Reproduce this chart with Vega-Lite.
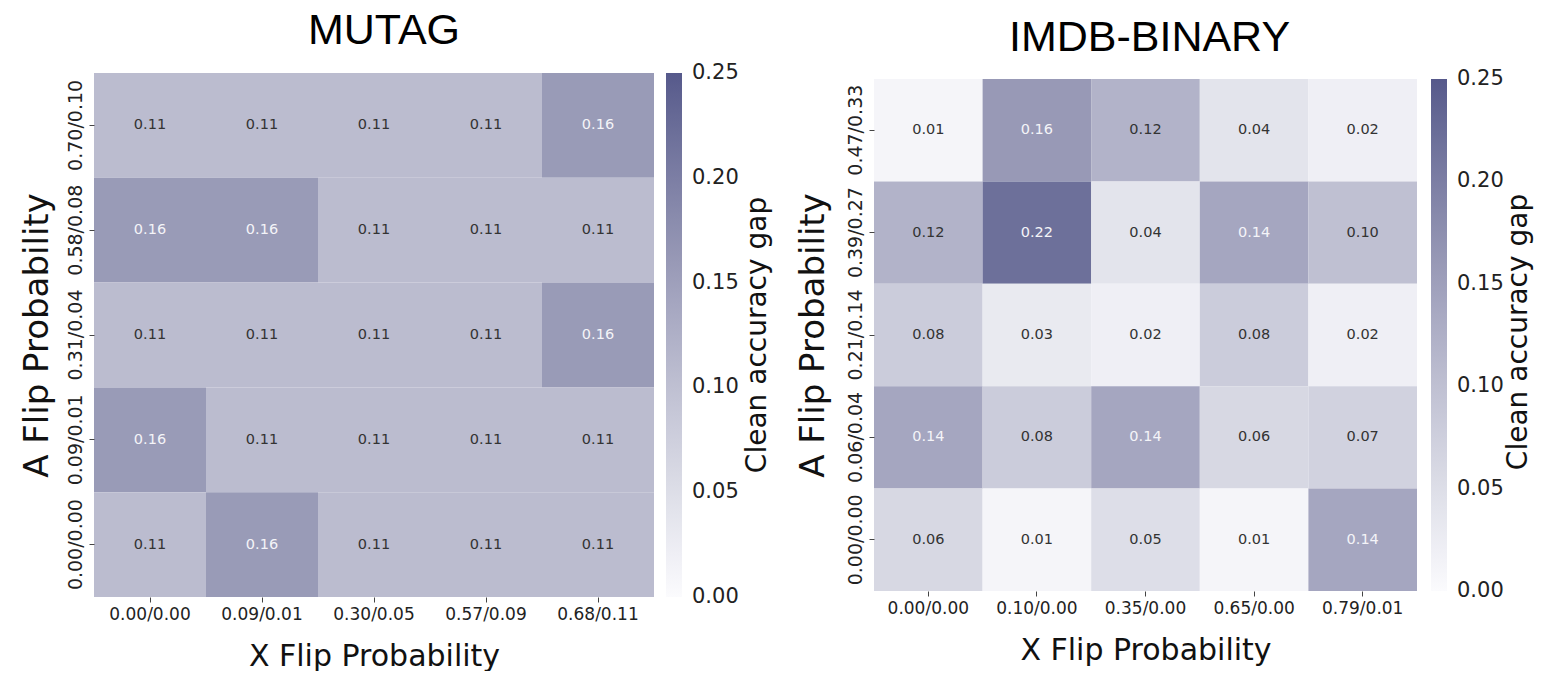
{
  "$schema": "https://vega.github.io/schema/vega-lite/v6.json",
  "background": "white",
  "padding": {"left": 20, "top": 10, "right": 0, "bottom": 0},
  "spacing": 24,
  "datasets": {
    "mutag": [
      {"xp": "0.00/0.00", "ap": "0.70/0.10", "gap": 0.106},
      {"xp": "0.09/0.01", "ap": "0.70/0.10", "gap": 0.106},
      {"xp": "0.30/0.05", "ap": "0.70/0.10", "gap": 0.106},
      {"xp": "0.57/0.09", "ap": "0.70/0.10", "gap": 0.106},
      {"xp": "0.68/0.11", "ap": "0.70/0.10", "gap": 0.158},
      {"xp": "0.00/0.00", "ap": "0.58/0.08", "gap": 0.158},
      {"xp": "0.09/0.01", "ap": "0.58/0.08", "gap": 0.158},
      {"xp": "0.30/0.05", "ap": "0.58/0.08", "gap": 0.106},
      {"xp": "0.57/0.09", "ap": "0.58/0.08", "gap": 0.106},
      {"xp": "0.68/0.11", "ap": "0.58/0.08", "gap": 0.106},
      {"xp": "0.00/0.00", "ap": "0.31/0.04", "gap": 0.106},
      {"xp": "0.09/0.01", "ap": "0.31/0.04", "gap": 0.106},
      {"xp": "0.30/0.05", "ap": "0.31/0.04", "gap": 0.106},
      {"xp": "0.57/0.09", "ap": "0.31/0.04", "gap": 0.106},
      {"xp": "0.68/0.11", "ap": "0.31/0.04", "gap": 0.158},
      {"xp": "0.00/0.00", "ap": "0.09/0.01", "gap": 0.158},
      {"xp": "0.09/0.01", "ap": "0.09/0.01", "gap": 0.106},
      {"xp": "0.30/0.05", "ap": "0.09/0.01", "gap": 0.106},
      {"xp": "0.57/0.09", "ap": "0.09/0.01", "gap": 0.106},
      {"xp": "0.68/0.11", "ap": "0.09/0.01", "gap": 0.106},
      {"xp": "0.00/0.00", "ap": "0.00/0.00", "gap": 0.106},
      {"xp": "0.09/0.01", "ap": "0.00/0.00", "gap": 0.158},
      {"xp": "0.30/0.05", "ap": "0.00/0.00", "gap": 0.106},
      {"xp": "0.57/0.09", "ap": "0.00/0.00", "gap": 0.106},
      {"xp": "0.68/0.11", "ap": "0.00/0.00", "gap": 0.106}
    ],
    "imdb": [
      {"xp": "0.00/0.00", "ap": "0.47/0.33", "gap": 0.01},
      {"xp": "0.10/0.00", "ap": "0.47/0.33", "gap": 0.16},
      {"xp": "0.35/0.00", "ap": "0.47/0.33", "gap": 0.12},
      {"xp": "0.65/0.00", "ap": "0.47/0.33", "gap": 0.04},
      {"xp": "0.79/0.01", "ap": "0.47/0.33", "gap": 0.02},
      {"xp": "0.00/0.00", "ap": "0.39/0.27", "gap": 0.12},
      {"xp": "0.10/0.00", "ap": "0.39/0.27", "gap": 0.22},
      {"xp": "0.35/0.00", "ap": "0.39/0.27", "gap": 0.04},
      {"xp": "0.65/0.00", "ap": "0.39/0.27", "gap": 0.14},
      {"xp": "0.79/0.01", "ap": "0.39/0.27", "gap": 0.10},
      {"xp": "0.00/0.00", "ap": "0.21/0.14", "gap": 0.08},
      {"xp": "0.10/0.00", "ap": "0.21/0.14", "gap": 0.03},
      {"xp": "0.35/0.00", "ap": "0.21/0.14", "gap": 0.02},
      {"xp": "0.65/0.00", "ap": "0.21/0.14", "gap": 0.08},
      {"xp": "0.79/0.01", "ap": "0.21/0.14", "gap": 0.02},
      {"xp": "0.00/0.00", "ap": "0.06/0.04", "gap": 0.14},
      {"xp": "0.10/0.00", "ap": "0.06/0.04", "gap": 0.08},
      {"xp": "0.35/0.00", "ap": "0.06/0.04", "gap": 0.14},
      {"xp": "0.65/0.00", "ap": "0.06/0.04", "gap": 0.06},
      {"xp": "0.79/0.01", "ap": "0.06/0.04", "gap": 0.07},
      {"xp": "0.00/0.00", "ap": "0.00/0.00", "gap": 0.06},
      {"xp": "0.10/0.00", "ap": "0.00/0.00", "gap": 0.01},
      {"xp": "0.35/0.00", "ap": "0.00/0.00", "gap": 0.05},
      {"xp": "0.65/0.00", "ap": "0.00/0.00", "gap": 0.01},
      {"xp": "0.79/0.01", "ap": "0.00/0.00", "gap": 0.14}
    ]
  },
  "config": {
    "view": {"stroke": null},
    "font": "DejaVu Sans",
    "scale": {"bandPaddingInner": 0, "bandPaddingOuter": 0},
    "axis": {
      "domain": false,
      "ticks": true,
      "tickSize": 5,
      "tickColor": "#444444",
      "tickWidth": 1,
      "grid": false,
      "labelFont": "DejaVu Sans",
      "labelColor": "#222222",
      "titleFont": "DejaVu Sans",
      "titleFontWeight": "normal",
      "titleColor": "#111111"
    },
    "axisX": {"labelAngle": 0, "labelFontSize": 17, "titleFontSize": 30, "labelPadding": 4, "titlePadding": 19},
    "axisY": {"labelAngle": -90, "labelFontSize": 19, "titleFontSize": 34, "labelPadding": 4, "titlePadding": 12},
    "legend": {
      "direction": "vertical",
      "gradientThickness": 16,
      "gradientStrokeWidth": 0,
      "labelFont": "DejaVu Sans",
      "labelFontSize": 21,
      "labelColor": "#222222",
      "titleFont": "DejaVu Sans",
      "titleFontSize": 28,
      "titleFontWeight": "normal",
      "titleColor": "#111111",
      "titleOrient": "right",
      "titleAnchor": "middle",
      "titlePadding": 2,
      "titleLimit": 1000
    }
  },
  "resolve": {"scale": {"color": "independent"}, "legend": {"color": "independent"}},
  "hconcat": [
    {
      "title": {"text": "MUTAG", "font": "Liberation Sans", "fontSize": 43, "fontWeight": "normal", "color": "#000000", "offset": 20, "anchor": "middle", "frame": "group", "dx": 10},
      "width": 560,
      "height": 524,
      "data": {"name": "mutag"},
      "encoding": {
        "x": {"field": "xp", "type": "ordinal", "sort": ["0.00/0.00", "0.09/0.01", "0.30/0.05", "0.57/0.09", "0.68/0.11"], "title": "X Flip Probability"},
        "y": {"field": "ap", "type": "ordinal", "sort": ["0.70/0.10", "0.58/0.08", "0.31/0.04", "0.09/0.01", "0.00/0.00"], "title": "A Flip Probability"}
      },
      "layer": [
        {
          "mark": {"type": "rect"},
          "encoding": {
            "color": {
              "field": "gap", "type": "quantitative",
              "scale": {"domain": [0, 0.25], "range": ["#fbfbfd", "#56598b"], "interpolate": {"type": "rgb", "gamma": 1.3}},
              "legend": {
                "title": "Clean accuracy gap",
                "values": [0, 0.05, 0.1, 0.15, 0.2, 0.25],
                "format": ".2f",
                "gradientLength": 524,
                "offset": 12,
                "labelOffset": 10,
                "encode": {
                  "title": {"update": {"angle": {"value": -90}, "dy": {"value": 31}}},
                  "labels": {"update": {"baseline": {"value": "middle"}}}
                }
              }
            }
          }
        },
        {
          "mark": {"type": "text", "fontSize": 14.5, "font": "DejaVu Sans"},
          "encoding": {
            "text": {"field": "gap", "type": "quantitative", "format": ".2f"},
            "color": {"condition": {"test": "datum.gap >= 0.135", "value": "#f4f4f8"}, "value": "#333333"}
          }
        }
      ]
    },
    {
      "title": {"text": "IMDB-BINARY", "font": "Liberation Sans", "fontSize": 43, "fontWeight": "normal", "color": "#000000", "offset": 20, "anchor": "middle", "frame": "group", "dx": 4, "dy": 7},
      "width": 543,
      "height": 524,
      "data": {"name": "imdb"},
      "encoding": {
        "x": {"field": "xp", "type": "ordinal", "sort": ["0.00/0.00", "0.10/0.00", "0.35/0.00", "0.65/0.00", "0.79/0.01"], "title": "X Flip Probability", "axis": {"offset": -6}},
        "y": {"field": "ap", "type": "ordinal", "sort": ["0.47/0.33", "0.39/0.27", "0.21/0.14", "0.06/0.04", "0.00/0.00"], "title": "A Flip Probability", "scale": {"paddingOuter": 0.0586}, "axis": {"titlePadding": 16}}
      },
      "layer": [
        {
          "mark": {"type": "rect"},
          "encoding": {
            "color": {
              "field": "gap", "type": "quantitative",
              "scale": {"domain": [0, 0.25], "range": ["#fbfbfd", "#56598b"], "interpolate": {"type": "rgb", "gamma": 1.3}},
              "legend": {
                "title": "Clean accuracy gap",
                "values": [0, 0.05, 0.1, 0.15, 0.2, 0.25],
                "format": ".2f",
                "gradientLength": 512,
                "offset": 8,
                "padding": 6,
                "labelOffset": 10,
                "encode": {
                  "title": {"update": {"angle": {"value": -90}, "dy": {"value": 27}}},
                  "labels": {"update": {"baseline": {"value": "middle"}}}
                }
              }
            }
          }
        },
        {
          "mark": {"type": "text", "fontSize": 14.5, "font": "DejaVu Sans"},
          "encoding": {
            "text": {"field": "gap", "type": "quantitative", "format": ".2f"},
            "color": {"condition": {"test": "datum.gap >= 0.135", "value": "#f4f4f8"}, "value": "#333333"}
          }
        }
      ]
    }
  ]
}
